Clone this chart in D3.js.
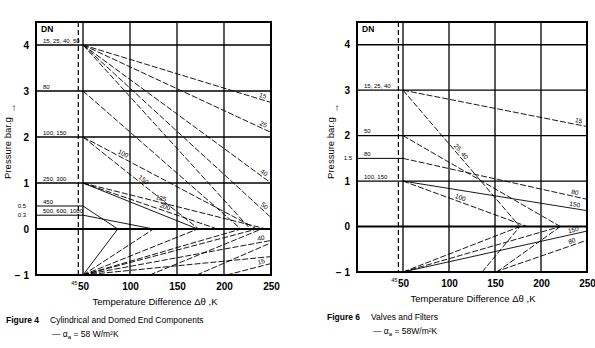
<!DOCTYPE html>
<html><head><meta charset="utf-8">
<script src="https://cdn.jsdelivr.net/npm/d3@7/dist/d3.min.js"></script>
<style>body{margin:0;background:#fff}svg{display:block}text{font-family:"Liberation Sans",Arial,sans-serif;fill:#000}</style>
</head><body><svg id="c" width="595" height="348"></svg>
<script>
// ---- data ----
const xTicks = [50, 100, 150, 200, 250];
const yTicks = [4, 3, 2, 1, 0, -1];
const gridY = [4, 3, 2, 1, 0];
const gridX = [50, 100, 150, 200];

// left chart (Figure 4) DN start levels
const leftDN = [
  {p: 4, text: "15, 25, 40, 50"},
  {p: 3, text: "80"},
  {p: 2, text: "100, 150"},
  {p: 1, text: "250, 300"},
  {p: 0.5, text: "450"},
  {p: 0.3, text: "500, 600, 1000"}
];
const leftSmallTicks = [0.5, 0.3];
// segments: [T1, p1, T2, p2, label, dashed, labelPos]
const leftLines = [
  [50, 4, 250, 2.75, "15", 1, 0.95],
  [50, 4, 250, 2.1, "25", 1, 0.95],
  [50, 4, 250, 1.0, "40", 1, 0.95],
  [50, 4, 250, 0.25, "50", 1, 0.95],
  [50, 4, 228, 0, "", 1, 0],
  [50, 3, 218, 0, "", 1, 0],
  [50, 2, 235, 0, "100", 1, 0.22],
  [50, 2, 173, 0, "150", 1, 0.5],
  [50, 1, 245, 0, "125", 1, 0.42],
  [50, 1, 193, 0, "200", 1, 0.6],
  [50, 1, 172, 0, "", 0, 0],
  [50, 0.5, 87, 0, "", 0, 0],
  [50, 0.3, 125, 0, "", 0, 0],
  [50, -1, 87, 0, "", 0, 0],
  [50, -1, 125, 0, "", 1, 0],
  [50, -1, 172, 0, "", 1, 0],
  [50, -1, 218, 0, "", 1, 0],
  [50, -1, 235, 0, "", 1, 0],
  [50, -1, 250, -0.25, "40", 1, 0.95],
  [50, -1, 250, -0.6, "", 1, 0],
  [121, -1, 240, 0, "", 1, 0],
  [171, -1, 250, -0.3, "", 1, 0],
  [203, -1, 250, -0.75, "15", 1, 0.8]
];

// right chart (Figure 6)
const rightDN = [
  {p: 3, text: "15, 25, 40"},
  {p: 2, text: "50"},
  {p: 1.5, text: "80"},
  {p: 1, text: "100, 150"}
];
const rightSmallTicks = [1.5];
const rightLines = [
  [50, 3, 250, 2.2, "15", 1, 0.95],
  [50, 3, 177, 0, "25, 40", 1, 0.47],
  [50, 2, 221, 0, "", 1, 0],
  [50, 1.5, 250, 0.6, "80", 1, 0.93],
  [50, 1, 250, 0.35, "150", 0, 0.93],
  [50, 1, 185, 0, "100", 1, 0.45],
  [50, -1, 177, 0, "", 1, 0],
  [50, -1, 221, 0, "", 1, 0],
  [50, -1, 250, -0.1, "150", 0, 0.93],
  [150, -1, 250, -0.3, "80", 1, 0.85],
  [136, -1, 177, 0, "", 1, 0],
  [152, -1, 221, 0, "", 1, 0]
];

// ---- drawing ----
const svg = d3.select("#c");

function chart(o) {
  const x = d3.scaleLinear().domain([0, 250]).range(o.xr);
  const y = d3.scaleLinear().domain([-1, 4.5]).range(o.yr);
  const g = svg.append("g");
  const [x0, x1] = o.xr, [y0, y1] = o.yr;

  // grid
  g.selectAll(".gx").data(gridX).join("line")
    .attr("x1", d => x(d)).attr("x2", d => x(d)).attr("y1", y1).attr("y2", y0)
    .attr("stroke", "#000").attr("stroke-width", 1.3);
  g.selectAll(".gy").data(gridY).join("line")
    .attr("x1", x0).attr("x2", x1).attr("y1", d => y(d)).attr("y2", d => y(d))
    .attr("stroke", "#000").attr("stroke-width", d => d === 0 ? 2 : 1.3);
  // short DN level segments
  g.selectAll(".dn").data(o.dn.filter(d => gridY.indexOf(d.p) < 0)).join("line")
    .attr("x1", x0).attr("x2", x(50)).attr("y1", d => y(d.p)).attr("y2", d => y(d.p))
    .attr("stroke", "#000").attr("stroke-width", 1);
  // dashed line at 45
  g.append("line").attr("x1", x(45)).attr("x2", x(45)).attr("y1", y1).attr("y2", y0)
    .attr("stroke", "#000").attr("stroke-width", 1.2).attr("stroke-dasharray", "5,3");

  // data lines
  g.selectAll(".ln").data(o.lines).join("line")
    .attr("x1", d => x(d[0])).attr("y1", d => y(d[1]))
    .attr("x2", d => x(d[2])).attr("y2", d => y(d[3]))
    .attr("stroke", "#000").attr("stroke-width", 0.9)
    .attr("stroke-dasharray", d => d[5] ? "6,2" : null);
  g.selectAll(".ll").data(o.lines.filter(d => d[4])).join("text")
    .attr("transform", d => {
      const ax = x(d[0]), ay = y(d[1]), bx = x(d[2]), by = y(d[3]);
      const t = d[6];
      const px = ax + (bx - ax) * t, py = ay + (by - ay) * t;
      const ang = Math.atan2(by - ay, bx - ax) * 180 / Math.PI;
      return `translate(${px},${py}) rotate(${ang}) translate(0,-2)`;
    })
    .attr("text-anchor", "middle").attr("font-size", 6.5).text(d => d[4]);

  // border
  g.append("rect").attr("x", x0).attr("y", y1).attr("width", x1 - x0).attr("height", y0 - y1)
    .attr("fill", "none").attr("stroke", "#000").attr("stroke-width", 2);

  // axes
  const ax = g.append("g").attr("transform", `translate(0,${y0})`)
    .call(d3.axisBottom(x).tickValues(xTicks).tickSize(0).tickPadding(8));
  ax.select(".domain").remove();
  ax.selectAll("text").attr("font-size", 10).attr("font-weight", "bold")
    .attr("font-family", "Liberation Sans, Arial, sans-serif");
  const ay = g.append("g").attr("transform", `translate(${x0},0)`)
    .call(d3.axisLeft(y).tickValues(yTicks).tickSize(0).tickPadding(7)
      .tickFormat(d => d < 0 ? "\u2212 1" : d));
  ay.select(".domain").remove();
  ay.selectAll("text").attr("font-size", 10).attr("font-weight", "bold")
    .attr("font-family", "Liberation Sans, Arial, sans-serif");
  g.selectAll(".st").data(o.small).join("text")
    .attr("x", x0 - o.smallOff).attr("y", d => y(d) + 2).attr("text-anchor", "end")
    .attr("font-size", 6).text(d => d);
  g.append("text").attr("x", x(45) - 1).attr("y", y0 + 10).attr("text-anchor", "end")
    .attr("font-size", 5.5).text("45");

  // DN labels
  g.append("text").attr("x", x0 + 5).attr("y", y1 + 10).attr("font-size", 8.5)
    .attr("font-weight", "bold").text("DN");
  g.selectAll(".dl").data(o.dn).join("text")
    .attr("x", x0 + 7).attr("y", d => y(d.p) - 2.5).attr("font-size", 6)
    .text(d => d.text);

  // titles
  g.append("text").attr("transform", `translate(${o.ytx},${o.yty}) rotate(-90)`)
    .attr("text-anchor", "middle").attr("font-size", 9.5).text("Pressure bar.g");
  g.append("text").attr("x", o.ytx + 3).attr("y", o.yty - 37).attr("text-anchor", "middle")
    .attr("font-size", 10).attr("font-weight", "bold").text("\u2191");
  g.append("text").attr("x", (x(50) + x(250)) / 2 - 22).attr("y", y0 + 30)
    .attr("text-anchor", "middle").attr("font-size", 9.5).text("Temperature Difference \u0394\u03b8 ,K");
  return g;
}

chart({xr: [36, 271], yr: [275, 22], dn: leftDN, lines: leftLines, small: leftSmallTicks, smallOff: 10, ytx: 11, yty: 148});
chart({xr: [357, 587], yr: [272, 22], dn: rightDN, lines: rightLines, small: rightSmallTicks, smallOff: 5, ytx: 334, yty: 148});

// captions
function cap(x, y, fig, t1, t2) {
  svg.append("text").attr("x", x).attr("y", y).attr("font-size", 8.5).attr("font-weight", "bold").text(fig);
  svg.append("text").attr("x", x + 44).attr("y", y).attr("font-size", 8.5).text(t1);
  const t = svg.append("text").attr("x", x + 46).attr("y", y + 14).attr("font-size", 8.5);
  t.append("tspan").text("\u2014 \u03b1");
  t.append("tspan").attr("font-size", 6).attr("dy", 2).text("a");
  t.append("tspan").attr("dy", -2).text(t2);
}
cap(6, 323, "Figure 4", "Cylindrical and Domed End Components", " = 58 W/m\u00b2K");
cap(327, 320, "Figure 6", "Valves and Filters", " = 58W/m\u00b2K");
</script></body></html>
